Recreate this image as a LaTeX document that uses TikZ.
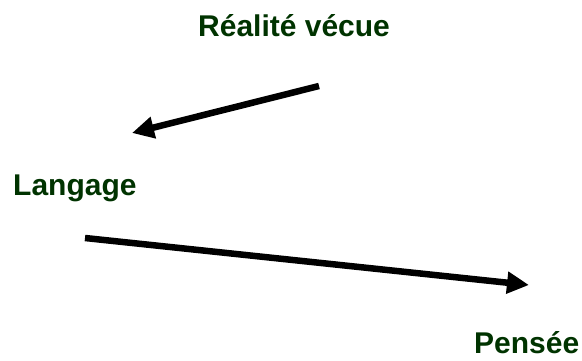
\documentclass[tikz,border=0pt]{standalone}
\usepackage{fontspec}
\setmainfont{Liberation Sans}
\usepackage{xcolor}
\usepackage{tikz}
\usetikzlibrary{arrows.meta,positioning}

\definecolor{vert}{RGB}{0,51,0}
\tikzset{
  mot/.style={anchor=base west, inner sep=0pt, text=vert,
    font=\fontsize{30}{36}\selectfont\bfseries},
  fleche/.style={line width=6.5pt, -{Triangle[length=22pt,width=21pt]}}
}

\begin{document}
\begin{tikzpicture}[x=1pt,y=-1pt]
\useasboundingbox (0,0) rectangle (582,361);
\node[mot] (r) at (198,37) {Réalité vécue};
\node[mot] (l) at (13,196) {Langage};
\node[mot] (p) at (474,353) {Pensée};
\coordinate (r1) at (319,86);
\coordinate (l1) at (132,133);
\coordinate (l2) at (85,238);
\coordinate (p1) at (529,285);
\draw[fleche] (r1) -- (l1);
\draw[fleche] (l2) -- (p1);
\end{tikzpicture}
\end{document}
